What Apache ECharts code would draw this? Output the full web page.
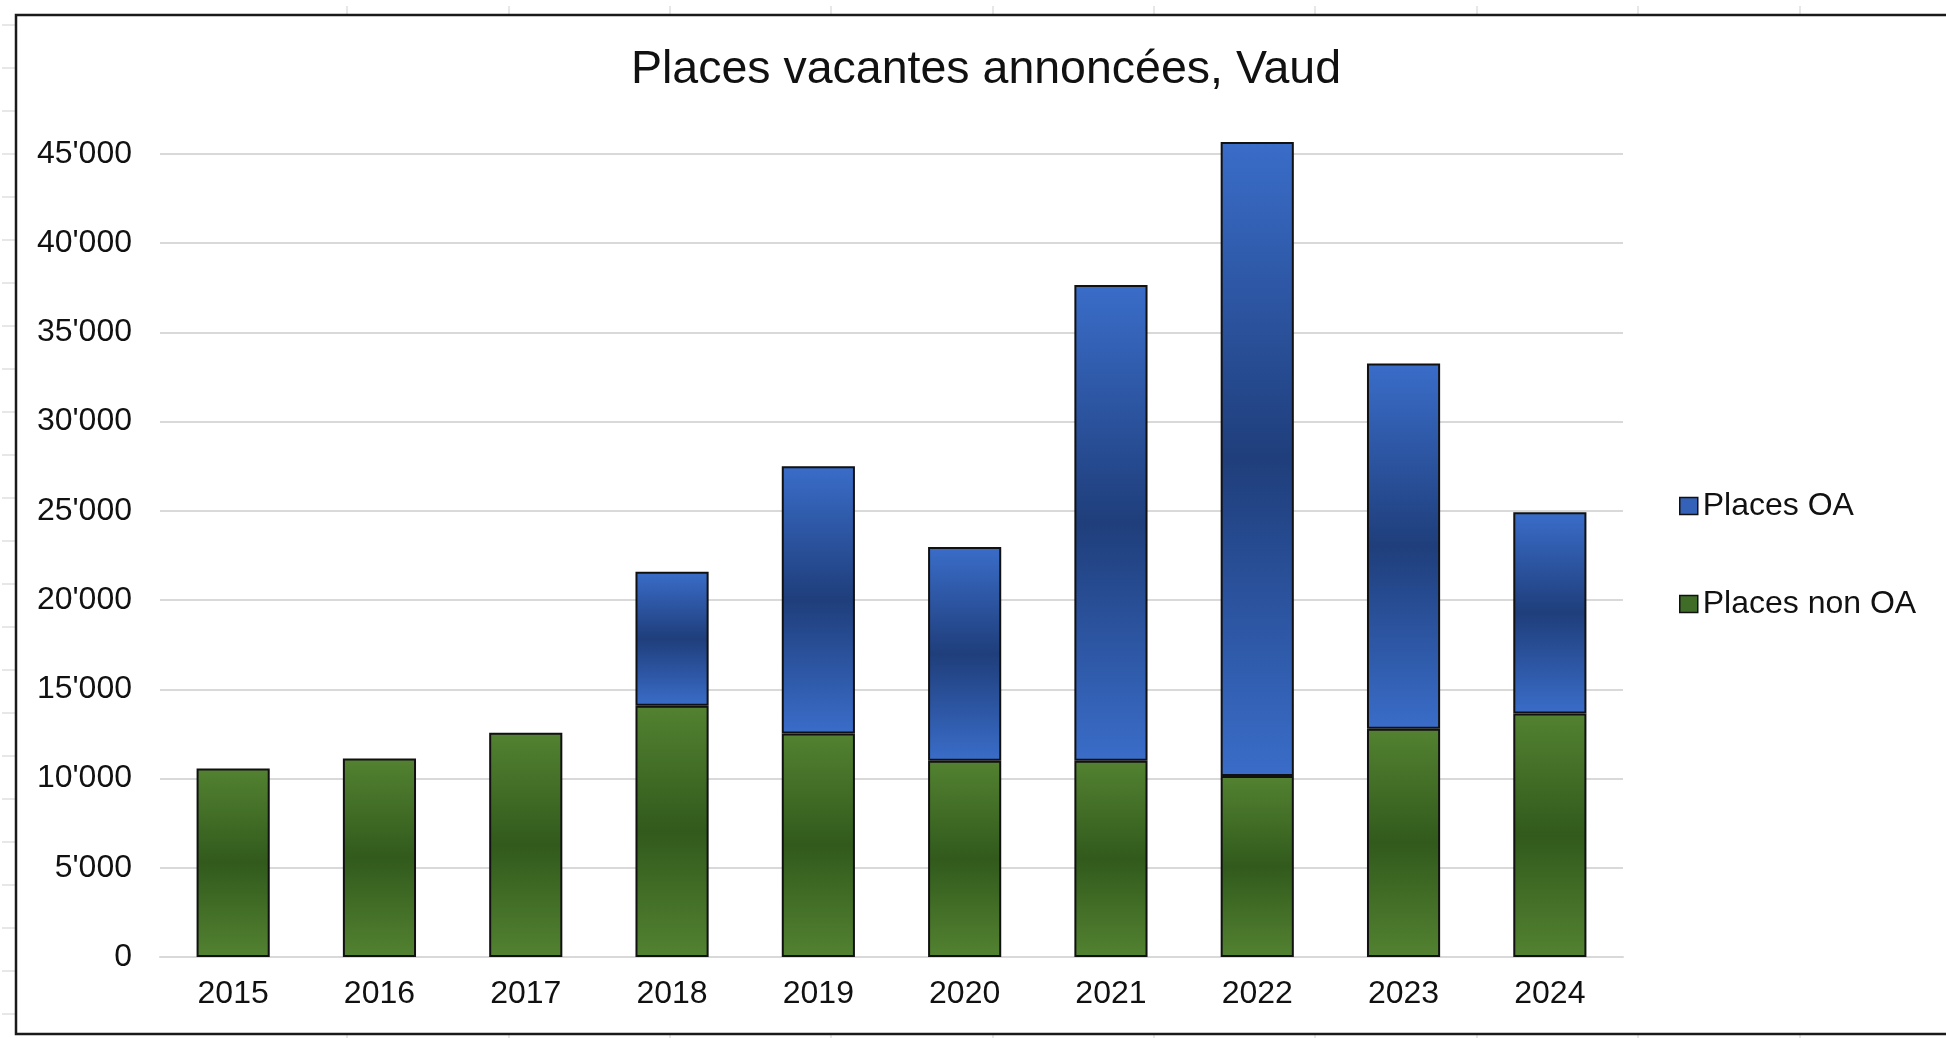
<!DOCTYPE html>
<html>
<head>
<meta charset="utf-8">
<script src="https://cdn.jsdelivr.net/npm/echarts@6/dist/echarts.min.js"></script>
<style>
  html, body { margin: 0; padding: 0; background: #fff; }
  #main { width: 1946px; height: 1038px; }
</style>
</head>
<body>
<div id="main"></div>
<script>
// data
var years = ['2015', '2016', '2017', '2018', '2019', '2020', '2021', '2022', '2023', '2024'];
var placesNonOA = [10570, 11130, 12560, 14080, 12530, 11000, 11000, 10140, 12790, 13650];
var placesOA = [0, 0, 0, 7510, 14970, 11970, 26660, 35530, 20470, 11280];
var yTicks = [0, 5000, 10000, 15000, 20000, 25000, 30000, 35000, 40000, 45000];
var yTickLabels = ['0', "5'000", "10'000", "15'000", "20'000", "25'000", "30'000", "35'000", "40'000", "45'000"];

var font = 'Arial, "Liberation Sans", sans-serif';

function vGrad(edge, mid) {
  return {
    type: 'linear', x: 0, y: 0, x2: 0, y2: 1,
    colorStops: [
      { offset: 0, color: edge },
      { offset: 0.5, color: mid },
      { offset: 1, color: edge }
    ]
  };
}

// petits traits de la feuille de calcul autour du cadre
var sheetMarks = [];
var topX = [347, 509, 670, 831, 993, 1154, 1315, 1477, 1638, 1800];
topX.forEach(function (x) {
  sheetMarks.push({ type: 'line', shape: { x1: x, y1: 6, x2: x, y2: 15 }, style: { stroke: '#cfcfcf', lineWidth: 1 }, z: 0 });
  sheetMarks.push({ type: 'line', shape: { x1: x, y1: 1034, x2: x, y2: 1038 }, style: { stroke: '#cfcfcf', lineWidth: 1 }, z: 0 });
});
for (var ly = 25; ly < 1034; ly += 43) {
  sheetMarks.push({ type: 'line', shape: { x1: 2, y1: ly, x2: 15, y2: ly }, style: { stroke: '#cfcfcf', lineWidth: 1 }, z: 0 });
}
sheetMarks.push({
  type: 'rect', shape: { x: 16, y: 15, width: 2000, height: 1019 },
  style: { fill: null, stroke: '#1a1a1a', lineWidth: 2.5 }, z: 0
});

var chart = echarts.init(document.getElementById('main'));

var option = {
  backgroundColor: '#fff',
  animation: false,
  title: {
    text: 'Places vacantes annoncées, Vaud',
    left: 631,
    top: 47,
    padding: 0,
    textStyle: { fontFamily: font, fontSize: 46.5, fontWeight: 'normal', color: '#111' }
  },
  legend: {
    orient: 'vertical',
    left: 1674,
    top: 485,
    itemWidth: 18,
    itemHeight: 17,
    itemGap: 66,
    icon: 'rect',
    textStyle: { fontFamily: font, fontSize: 32, color: '#111' },
    data: [
      { name: 'Places OA', itemStyle: { color: '#3462b8', borderColor: '#111', borderWidth: 1.5 } },
      { name: 'Places non OA', itemStyle: { color: '#3f6d27', borderColor: '#111', borderWidth: 1.5 } }
    ]
  },
  grid: { left: 160, right: 323, top: 154, bottom: 81, containLabel: false },
  xAxis: {
    type: 'category',
    data: years,
    axisLine: { show: true, lineStyle: { color: '#d9d9d9', width: 2 } },
    axisTick: { show: false },
    axisLabel: { fontFamily: font, fontSize: 32, color: '#111', margin: 21 }
  },
  yAxis: {
    type: 'value',
    min: 0,
    max: 45000,
    interval: 5000,
    axisLine: { show: false },
    axisTick: { show: false },
    splitLine: { lineStyle: { color: '#d9d9d9', width: 2 } },
    axisLabel: {
      fontFamily: font, fontSize: 32, color: '#111', margin: 28,
      formatter: function (v) {
        var i = yTicks.indexOf(v);
        return i >= 0 ? yTickLabels[i] : '';
      }
    }
  },
  series: [
    {
      name: 'Places non OA',
      type: 'bar',
      stack: 'total',
      barWidth: '50%',
      clip: false,
      itemStyle: { color: vGrad('#538231', '#315a1c'), borderColor: '#111', borderWidth: 2 },
      data: placesNonOA
    },
    {
      name: 'Places OA',
      type: 'bar',
      stack: 'total',
      barWidth: '50%',
      clip: false,
      itemStyle: { color: vGrad('#3a6dc9', '#1f3e7b'), borderColor: '#111', borderWidth: 2 },
      data: placesOA.map(function (v) { return v === 0 ? null : v; })
    }
  ],
  graphic: sheetMarks
};

chart.setOption(option);
</script>
</body>
</html>
